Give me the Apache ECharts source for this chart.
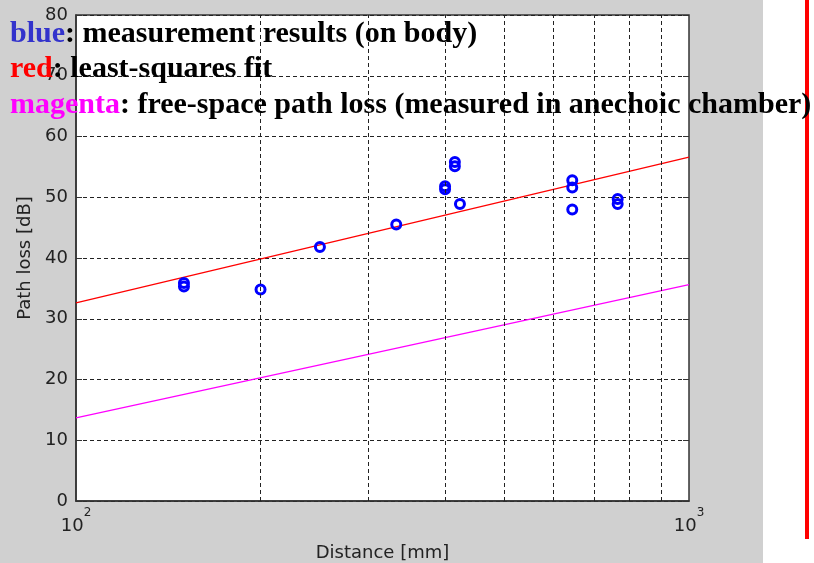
<!DOCTYPE html>
<html>
<head>
<meta charset="utf-8">
<script src="https://cdn.jsdelivr.net/npm/echarts@6/dist/echarts.min.js"></script>
<style>
  html, body { margin: 0; padding: 0; background: #fff; }
  #mychart { width: 814px; height: 563px; }
</style>
</head>
<body>
<div id="mychart"></div>
<script>
// measured points (on body)
var distances = [150, 150, 200, 250, 333, 400, 400, 415, 415, 423, 645, 645, 645, 765, 765];
var pathLoss = [35.9, 35.3, 34.8, 41.8, 45.5, 51.8, 51.3, 55.8, 55.1, 48.9, 52.8, 51.6, 48.0, 49.7, 48.9];

// fitted lines, end points at 100 and 1000 mm
var lineX = [100, 1000];
var fitLoss = [32.6, 56.6];
var freeSpaceLoss = [13.7, 35.6];

// dashed grid lines between the decades
var minorX = [200, 300, 400, 500, 600, 700, 800, 900];

var dom = document.getElementById("mychart");
var myChart = echarts.init(dom);

var points = distances.map(function (d, i) { return [d, pathLoss[i]]; });
var fitData = lineX.map(function (d, i) { return [d, fitLoss[i]]; });
var freeData = lineX.map(function (d, i) { return [d, freeSpaceLoss[i]]; });

var axisFont = {
    fontFamily: 'DejaVu Sans',
    fontSize: 18,
    color: '#222'
};
var dashed = { color: '#222', width: 1, type: [4, 3] };

function legendLine(top, key, keyColor, rest) {
    var font = { fontFamily: 'Liberation Serif', fontSize: 30, fontWeight: 'bold' };
    return {
        type: 'text',
        left: 10,
        top: top,
        z: 100,
        style: {
            text: '{k|' + key + '}{r|' + rest + '}',
            rich: {
                k: Object.assign({ fill: keyColor }, font),
                r: Object.assign({ fill: '#000' }, font)
            }
        }
    };
}

var option = {
    backgroundColor: '#fff',
    animation: false,
    grid: {
        left: 76,
        right: 125,
        top: 15,
        bottom: 62,
        containLabel: false,
        outerBoundsMode: 'none',
        show: true,
        backgroundColor: '#fff',
        borderColor: '#333',
        borderWidth: 1.5
    },
    xAxis: {
        type: 'log',
        logBase: 10,
        min: 100,
        max: 1000,
        name: 'Distance [mm]',
        nameLocation: 'middle',
        nameGap: 43,
        nameTextStyle: axisFont,
        axisLine: { lineStyle: { color: '#333', width: 1.5 } },
        axisTick: { show: false },
        splitLine: { show: false },
        axisLabel: {
            margin: 6,
            formatter: function (v) {
                return '{b|10}{s|' + Math.round(Math.log10(v)) + '}';
            },
            rich: {
                b: { fontFamily: 'DejaVu Sans', fontSize: 18, color: '#222', verticalAlign: 'bottom', padding: [10, 0, 0, 0] },
                s: { fontFamily: 'DejaVu Sans', fontSize: 12, color: '#222', verticalAlign: 'top' }
            }
        }
    },
    yAxis: [
        {
            type: 'value',
            min: 0,
            max: 80,
            interval: 10,
            name: 'Path loss [dB]',
            nameLocation: 'middle',
            nameGap: 42,
            nameRotate: 90,
            nameTextStyle: axisFont,
            axisLine: { lineStyle: { color: '#333', width: 1.5 } },
            axisTick: { inside: true, length: 6, lineStyle: { color: '#333' } },
            axisLabel: Object.assign({ margin: 8 }, axisFont),
            splitLine: { lineStyle: dashed }
        },
        {
            type: 'value',
            min: 0,
            max: 80,
            interval: 10,
            position: 'right',
            axisLine: { show: false },
            axisTick: { inside: true, length: 6, lineStyle: { color: '#333' } },
            axisLabel: { show: false },
            splitLine: { show: false }
        }
    ],
    series: [
        {
            name: 'free space',
            type: 'line',
            data: freeData,
            symbol: 'none',
            lineStyle: { color: '#ff00ff', width: 1.3 },
            markLine: {
                silent: true,
                symbol: 'none',
                label: { show: false },
                lineStyle: dashed,
                data: minorX.map(function (x) { return { xAxis: x }; })
            },
            z: 3
        },
        {
            name: 'fit',
            type: 'line',
            data: fitData,
            symbol: 'none',
            lineStyle: { color: '#ff0000', width: 1.3 },
            z: 3
        },
        {
            name: 'measured',
            type: 'scatter',
            data: points,
            symbol: 'circle',
            symbolSize: 9,
            itemStyle: { color: 'rgba(0,0,0,0)', borderColor: '#0000ff', borderWidth: 3, opacity: 1 },
            z: 4
        }
    ],
    graphic: [
        {
            type: 'rect',
            left: 0,
            top: 0,
            z: -10,
            shape: { width: 763, height: 563 },
            style: { fill: '#d0d0d0' }
        },
        {
            type: 'rect',
            left: 805,
            top: 0,
            shape: { width: 4, height: 539 },
            style: { fill: '#ff0000' }
        },
        legendLine(19, 'blue', '#3333cc', ': measurement results (on body)'),
        legendLine(54, 'red', '#ff0000', ': least-squares fit'),
        legendLine(90, 'magenta', '#ff00ff', ': free-space path loss (measured in anechoic chamber)')
    ]
};

if (option && typeof option === 'object') {
    myChart.setOption(option);
}
</script>
</body>
</html>
